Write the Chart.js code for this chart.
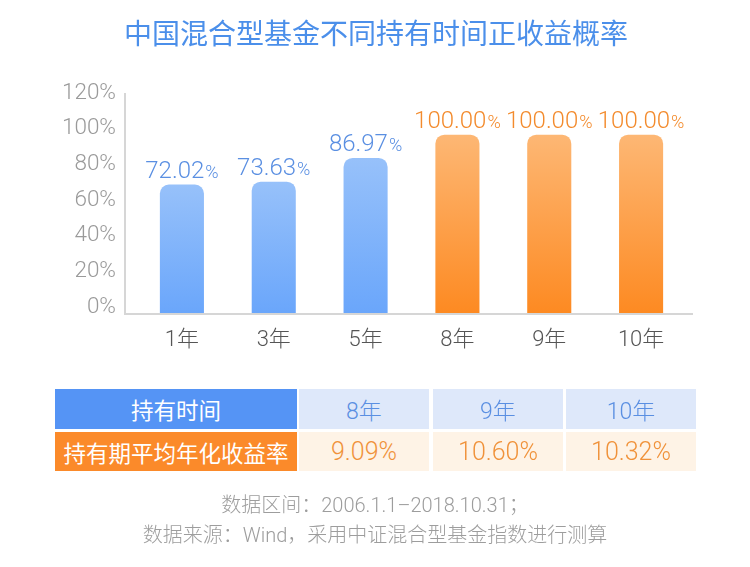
<!DOCTYPE html>
<html>
<head>
<meta charset="utf-8">
<script src="https://cdn.jsdelivr.net/npm/chart.js@4"></script>
<style>
    body { margin: 0; background: #fff; }
    #wrap { position: relative; width: 750px; height: 567px; overflow: hidden; font-family: Roboto, "Noto Sans CJK SC", sans-serif; }
    #chart { position: absolute; left: 0; top: 0; }
    #title { position: absolute; left: 0; top: 13px; width: 752px; text-align: center; color: #4b8fea; font-family: "Noto Sans CJK SC", sans-serif; font-size: 28px; line-height: 38px; }
    .cell { position: absolute; display: flex; align-items: center; justify-content: center; font-weight: 300; }
    .head { color: #fff; font-family: "Noto Sans CJK SC", sans-serif; font-weight: 400; font-size: 22.5px; }
    .note { position: absolute; left: 0; width: 750px; text-align: center; color: #9d9d9d; font-size: 20px; font-weight: 300; }
</style>
</head>
<body>
<div id="wrap">
    <canvas id="chart" width="750" height="567"></canvas>
    <div id="title">中国混合型基金不同持有时间正收益概率</div>
    <div id="table"></div>
    <div class="note" style="top: 489px;">数据区间：2006.1.1–2018.10.31；</div>
    <div class="note" style="top: 519px;">数据来源：Wind，采用中证混合型基金指数进行测算</div>
</div>
<script>
// chart data
const periods = ['1年', '3年', '5年', '8年', '9年', '10年'];
const positiveRates = [72.02, 73.63, 86.97, 100.00, 100.00, 100.00];
const yTicks = [0, 20, 40, 60, 80, 100, 120];

// table data
const tablePeriods = ['8年', '9年', '10年'];
const tableReturns = [9.09, 10.60, 10.32];
const rowTitles = ['持有时间', '持有期平均年化收益率'];

const BLUE_TOP = '#97c1fa', BLUE_BOTTOM = '#6aa6fb';
const ORANGE_TOP = '#fdb774', ORANGE_BOTTOM = '#fd8a22';

function isLong(v) { return v >= 100; }

function barGradient(context) {
    const chart = context.chart;
    const area = chart.chartArea;
    if (!area) return BLUE_BOTTOM;
    const v = context.raw;
    const top = chart.scales.y.getPixelForValue(v);
    const g = chart.ctx.createLinearGradient(0, top, 0, area.bottom);
    if (isLong(v)) {
        g.addColorStop(0, ORANGE_TOP);
        g.addColorStop(1, ORANGE_BOTTOM);
    } else {
        g.addColorStop(0, BLUE_TOP);
        g.addColorStop(1, BLUE_BOTTOM);
    }
    return g;
}

// axis lines that stick out a little past the plot area
const axisLines = {
    id: 'axisLines',
    afterDatasetsDraw(chart) {
        const { ctx, chartArea } = chart;
        ctx.save();
        ctx.strokeStyle = '#d6d6d6';
        ctx.lineWidth = 2;
        ctx.beginPath();
        ctx.moveTo(chartArea.left - 11, chartArea.top - 6);
        ctx.lineTo(chartArea.left - 11, chartArea.bottom + 1);
        ctx.lineTo(chartArea.right + 6, chartArea.bottom + 1);
        ctx.stroke();
        ctx.restore();
    }
};

// value labels, percent sign a bit smaller
const valueLabels = {
    id: 'valueLabels',
    afterDatasetsDraw(chart) {
        const ctx = chart.ctx;
        const meta = chart.getDatasetMeta(0);
        const bigFont = '300 24px Roboto, "Noto Sans CJK SC"';
        const smallFont = '300 18px Roboto, "Noto Sans CJK SC"';
        ctx.save();
        ctx.textBaseline = 'alphabetic';
        ctx.textAlign = 'left';
        meta.data.forEach(function (bar, i) {
            const v = positiveRates[i];
            const num = v.toFixed(2);
            ctx.font = bigFont;
            const w1 = ctx.measureText(num).width;
            ctx.font = smallFont;
            const w2 = ctx.measureText('%').width;
            const x0 = bar.x - (w1 + w2 + 1) / 2;
            const base = bar.y - 7;
            ctx.fillStyle = isLong(v) ? '#f38b2d' : '#5a8fe2';
            ctx.font = bigFont;
            ctx.fillText(num, x0, base);
            ctx.font = smallFont;
            ctx.fillText('%', x0 + w1 + 1, base);
        });
        ctx.restore();
    }
};

new Chart(document.getElementById('chart'), {
    type: 'bar',
    data: {
        labels: periods,
        datasets: [{
            data: positiveRates,
            backgroundColor: barGradient,
            borderSkipped: 'bottom',
            borderRadius: { topLeft: 9, topRight: 9 },
            barPercentage: 0.96,
            categoryPercentage: 0.5
        }]
    },
    options: {
        responsive: false,
        animation: false,
        layout: { padding: { top: 99, left: 0, right: 63, bottom: 214 } },
        plugins: {
            legend: { display: false },
            tooltip: { enabled: false },
            title: { display: false }
        },
        scales: {
            x: {
                grid: { display: false, drawTicks: false },
                border: { display: false },
                ticks: {
                    color: '#555',
                    padding: 14,
                    font: { family: 'Roboto, "Noto Sans CJK SC"', size: 22, weight: 300 }
                },
                afterFit(scale) { scale.height = 40; }
            },
            y: {
                min: 0,
                max: 120,
                grid: { display: false, drawTicks: false },
                border: { display: false },
                afterBuildTicks(scale) { scale.ticks = yTicks.map(v => ({ value: v })); },
                ticks: {
                    color: '#9a9a9a',
                    padding: 20,
                    labelOffset: -6,
                    font: { family: 'Roboto, "Noto Sans CJK SC"', size: 22.5, weight: 300 },
                    callback: v => v + '%'
                },
                afterFit(scale) { scale.width = 136; }
            }
        }
    },
    plugins: [axisLines, valueLabels]
});

// table below the chart
const table = document.getElementById('table');
const colX = [[55, 297], [299, 429], [433, 563], [566, 696]];
const rowY = [[389, 429], [432, 471]];
function addCell(text, col, row, bg, color, cls, size) {
    const d = document.createElement('div');
    d.className = 'cell' + (cls ? ' ' + cls : '');
    d.style.left = colX[col][0] + 'px';
    d.style.width = (colX[col][1] - colX[col][0]) + 'px';
    d.style.top = rowY[row][0] + 'px';
    d.style.height = (rowY[row][1] - rowY[row][0]) + 'px';
    d.style.background = bg;
    d.style.color = color;
    if (size) d.style.fontSize = size + 'px';
    d.textContent = text;
    table.appendChild(d);
}
addCell(rowTitles[0], 0, 0, '#5594f5', '#fff', 'head');
addCell(rowTitles[1], 0, 1, '#fb8a2a', '#fff', 'head');
tablePeriods.forEach((p, i) => addCell(p, i + 1, 0, '#dee8fa', '#5a8fe2', '', 23));
tableReturns.forEach((r, i) => addCell(r.toFixed(2) + '%', i + 1, 1, '#fef3e6', '#f0923a', '', 25));
</script>
</body>
</html>
